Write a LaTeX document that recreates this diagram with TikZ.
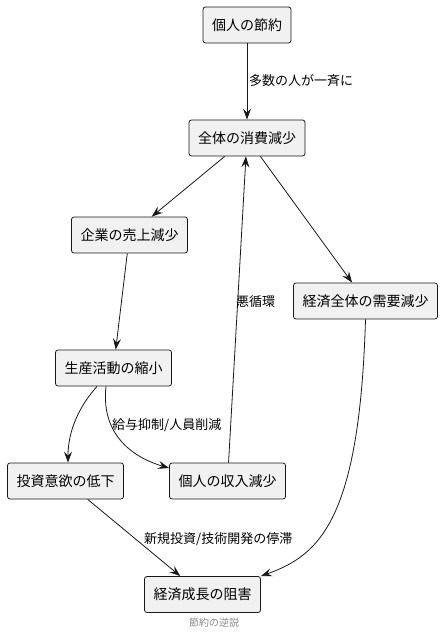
\documentclass[tikz,border=0pt]{standalone}
\usepackage{fontspec}
\setmainfont{Noto Sans CJK JP}
\usetikzlibrary{arrows.meta}
\definecolor{boxfill}{HTML}{F1F1F1}
\definecolor{boxline}{HTML}{181818}
\definecolor{captiongray}{HTML}{888888}
\tikzset{
  stepnode/.style={draw=boxline, fill=boxfill, rounded corners=2.5pt, minimum height=36pt, inner xsep=9pt, line width=0.8pt, font=\fontsize{14}{16}\selectfont},
  flow/.style={draw=boxline, line width=0.8pt, -{Stealth[length=11pt,width=8pt,inset=4pt]}},
  flowlabel/.style={anchor=west, inner sep=0pt, font=\fontsize{13}{15}\selectfont}
}

\begin{document}
\begin{tikzpicture}[x=1pt,y=-1pt]
\useasboundingbox (0,0) rectangle (443,636);

% Boxes
\node[stepnode] (saving) at (247,25) {個人の節約};
\node[stepnode] (consume) at (247,138) {全体の消費減少};
\node[stepnode] (sales) at (129.5,235) {企業の売上減少};
\node[stepnode] (demand) at (365.5,301) {経済全体の需要減少};
\node[stepnode] (shrink) at (113.5,368) {生産活動の縮小};
\node[stepnode] (invest) at (65.5,481) {投資意欲の低下};
\node[stepnode] (income) at (227.5,481) {個人の収入減少};
\node[stepnode] (growth) at (202.5,594.5) {経済成長の阻害};

% Straight arrows
\draw[flow] (saving) -- (consume);
\draw[flow] (consume) -- (sales);
\draw[flow] (consume) -- (demand);
\draw[flow] (sales) -- (shrink);
\draw[flow] (income) -- (consume);
\draw[flow] (invest) -- (growth);

% Curved arrows
\draw[flow] ([xshift=-16.5pt]shrink.south) .. controls +(-17,19) and +(0,-33) .. ([xshift=2.5pt]invest.north);
\draw[flow] ([xshift=-7.5pt]shrink.south) .. controls +(-6,54) and +(-28,-8) .. ([yshift=13pt]income.west);
\draw[flow] (demand.south) .. controls +(-6,200) and +(59,-21) .. (growth.north east);

% Labels
\node[flowlabel] (lblmany) at (249,81) {多数の人が一斉に};
\node[flowlabel] (lblloop) at (236,302) {悪循環};
\node[flowlabel] (lblpay) at (112,425) {給与抑制/人員削減};
\node[flowlabel] (lblstall) at (144,539) {新規投資/技術開発の停滞};
\node[font=\fontsize{10}{12}\selectfont, text=captiongray] (caption) at (214,623) {節約の逆説};

\end{tikzpicture}
\end{document}
